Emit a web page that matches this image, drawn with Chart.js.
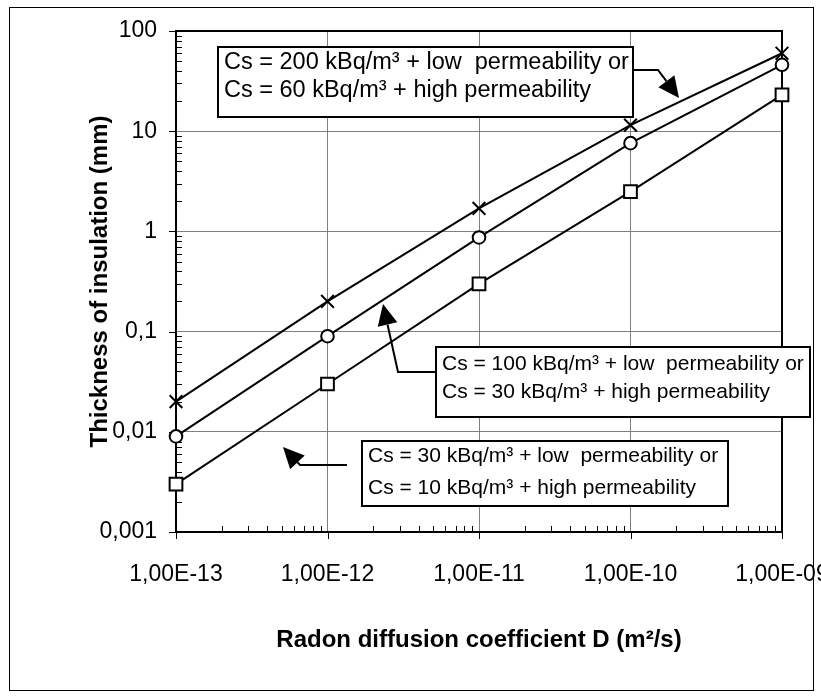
<!DOCTYPE html>
<html>
<head>
<meta charset="utf-8">
<script src="https://cdn.jsdelivr.net/npm/chart.js@4.4.0/dist/chart.umd.min.js"></script>
<style>
  html, body { margin: 0; padding: 0; background: #fff; }
  #wrap { width: 821px; height: 700px; }
</style>
</head>
<body>
<div id="wrap"><canvas id="chart" width="821" height="700"></canvas></div>
<script>
// ----- data -----
const diffusion  = [1e-13, 1e-12, 1e-11, 1e-10, 1e-9];
const thickHigh  = [0.02, 0.2, 1.7, 11.5, 60];     // crosses
const thickMid   = [0.009, 0.09, 0.87, 7.6, 46];   // circles
const thickLow   = [0.003, 0.03, 0.3, 2.5, 23];    // squares

const xTicks      = [1e-13, 1e-12, 1e-11, 1e-10, 1e-9];
const xTickLabels = ['1,00E-13', '1,00E-12', '1,00E-11', '1,00E-10', '1,00E-09'];
const yTicks      = [0.001, 0.01, 0.1, 1, 10, 100];
const yTickLabels = ['0,001', '0,01', '0,1', '1', '10', '100'];

const xTitle = 'Radon diffusion coefficient D (m²/s)';
const yTitle = 'Thickness of insulation (mm)';

const noteHigh = ['Cs = 200 kBq/m³ + low  permeability or', 'Cs = 60 kBq/m³ + high permeability'];
const noteMid  = ['Cs = 100 kBq/m³ + low  permeability or', 'Cs = 30 kBq/m³ + high permeability'];
const noteLow  = ['Cs = 30 kBq/m³ + low  permeability or', 'Cs = 10 kBq/m³ + high permeability'];

const FONT = '"Liberation Sans", Arial, sans-serif';

const toPoints = ys => ys.map((y, i) => ({ x: diffusion[i], y }));

// ----- annotation boxes + arrows (pixel layout) -----
const notes = [
  { lines: noteHigh, size: 23.5, box: [218, 47, 633, 117], base: [69, 97],
    arrow: [[633, 70], [658, 70], [679, 98]] },
  { lines: noteMid,  size: 21, box: [436, 347, 810, 417], base: [370, 398],
    arrow: [[436, 372], [398, 372], [383, 304]] },
  { lines: noteLow,  size: 21, box: [362, 441, 728, 506], base: [462, 494],
    arrow: [[347, 465], [300, 465], [283, 447]] }
];

function drawArrow(ctx, pts) {
  ctx.save();
  ctx.strokeStyle = '#000';
  ctx.fillStyle = '#000';
  ctx.lineWidth = 2;
  const n = pts.length;
  const [tx, ty] = pts[n - 1];
  const [px, py] = pts[n - 2];
  const ang = Math.atan2(ty - py, tx - px);
  const len = 21, half = 10;
  const bx = tx - Math.cos(ang) * len, by = ty - Math.sin(ang) * len;
  ctx.beginPath();
  ctx.moveTo(pts[0][0], pts[0][1]);
  for (let i = 1; i < n - 1; i++) ctx.lineTo(pts[i][0], pts[i][1]);
  ctx.lineTo(bx, by);
  ctx.stroke();
  ctx.beginPath();
  ctx.moveTo(tx, ty);
  ctx.lineTo(bx + Math.sin(ang) * half, by - Math.cos(ang) * half);
  ctx.lineTo(bx - Math.sin(ang) * half, by + Math.cos(ang) * half);
  ctx.closePath();
  ctx.fill();
  ctx.restore();
}

const framePlugin = {
  id: 'frame',
  beforeDraw(chart) {
    const ctx = chart.ctx;
    ctx.save();
    ctx.fillStyle = '#fff';
    ctx.fillRect(0, 0, chart.width, chart.height);
    ctx.strokeStyle = '#000';
    ctx.lineWidth = 1;
    ctx.strokeRect(9.5, 7.5, 804, 683);
    ctx.restore();
  },
  beforeDatasetsDraw(chart) {
    const { ctx, chartArea: a, scales: { x, y } } = chart;
    ctx.save();
    ctx.strokeStyle = '#000';
    ctx.lineWidth = 2;
    ctx.strokeRect(a.left, a.top, a.right - a.left, a.bottom - a.top);
    ctx.lineWidth = 1;
    ctx.beginPath();
    // x ticks: minor inward, major outward
    for (let d = -13; d < -9; d++) {
      for (let m = 2; m <= 9; m++) {
        const px = Math.round(x.getPixelForValue(m * Math.pow(10, d))) + 0.5;
        ctx.moveTo(px, a.bottom);
        ctx.lineTo(px, a.bottom - 6);
      }
    }
    xTicks.forEach(v => {
      const px = Math.round(x.getPixelForValue(v)) + 0.5;
      ctx.moveTo(px, a.bottom);
      ctx.lineTo(px, a.bottom + 7);
    });
    // y ticks
    for (let d = -3; d < 2; d++) {
      for (let m = 2; m <= 9; m++) {
        const py = Math.round(y.getPixelForValue(m * Math.pow(10, d))) + 0.5;
        ctx.moveTo(a.left, py);
        ctx.lineTo(a.left + 6, py);
      }
    }
    yTicks.forEach(v => {
      const py = Math.round(y.getPixelForValue(v)) + 0.5;
      ctx.moveTo(a.left, py);
      ctx.lineTo(a.left - 7, py);
    });
    ctx.stroke();
    ctx.restore();
  },
  afterDraw(chart) {
    const { ctx, chartArea: a } = chart;
    ctx.save();
    // axis titles
    ctx.fillStyle = '#000';
    ctx.font = 'bold 24px ' + FONT;
    ctx.textAlign = 'center';
    ctx.textBaseline = 'middle';
    ctx.fillText(xTitle, (a.left + a.right) / 2, 640);
    ctx.translate(100, (a.top + a.bottom) / 2);
    ctx.rotate(-Math.PI / 2);
    ctx.fillText(yTitle, 0, 0);
    ctx.restore();

    // notes
    notes.forEach(nt => {
      const [l, t, r, b] = nt.box;
      ctx.save();
      ctx.fillStyle = '#fff';
      ctx.fillRect(l, t, r - l, b - t);
      ctx.strokeStyle = '#000';
      ctx.lineWidth = 2;
      ctx.strokeRect(l, t, r - l, b - t);
      ctx.fillStyle = '#000';
      ctx.font = nt.size + 'px ' + FONT;
      ctx.textAlign = 'left';
      ctx.textBaseline = 'alphabetic';
      nt.lines.forEach((s, i) => ctx.fillText(s, l + 6, nt.base[i]));
      ctx.restore();
      drawArrow(ctx, nt.arrow);
    });
  }
};

const lineStyle = { borderColor: '#000', borderWidth: 2, tension: 0, clip: false,
                    pointBorderColor: '#000', pointBorderWidth: 2, pointBackgroundColor: '#fff' };

new Chart(document.getElementById('chart'), {
  type: 'line',
  data: {
    datasets: [
      { ...lineStyle, label: 'high', data: toPoints(thickHigh), pointStyle: 'crossRot', pointRadius: 9 },
      { ...lineStyle, label: 'mid',  data: toPoints(thickMid),  pointStyle: 'circle',   pointRadius: 6.3 },
      { ...lineStyle, label: 'low',  data: toPoints(thickLow),  pointStyle: 'rect',     pointRadius: 9 }
    ]
  },
  options: {
    responsive: false,
    animation: false,
    devicePixelRatio: 1,
    layout: { padding: { left: 0, top: 31, right: 39, bottom: 0 } },
    plugins: { legend: { display: false }, tooltip: { enabled: false } },
    scales: {
      x: {
        type: 'logarithmic',
        min: 1e-13, max: 1e-9,
        afterBuildTicks: s => { s.ticks = xTicks.map(v => ({ value: v })); },
        afterFit: s => { s.height = 168; s.paddingLeft = 0; s.paddingRight = 0; },
        grid: { color: '#808080', lineWidth: 1, drawTicks: false },
        border: { display: true, color: '#000', width: 2 },
        ticks: {
          autoSkip: false, maxRotation: 0, padding: 29, color: '#000',
          font: { family: FONT, size: 23 },
          callback: (v, i) => xTickLabels[i]
        }
      },
      y: {
        type: 'logarithmic',
        min: 0.001, max: 100,
        afterBuildTicks: s => { s.ticks = yTicks.map(v => ({ value: v })); },
        afterFit: s => { s.width = 176; s.paddingTop = 0; s.paddingBottom = 0; },
        grid: { color: '#808080', lineWidth: 1, drawTicks: false },
        border: { display: true, color: '#000', width: 2 },
        ticks: {
          autoSkip: false, padding: 19, color: '#000',
          font: { family: FONT, size: 23 },
          callback: (v, i) => yTickLabels[i]
        }
      }
    }
  },
  plugins: [framePlugin]
});
</script>
</body>
</html>
